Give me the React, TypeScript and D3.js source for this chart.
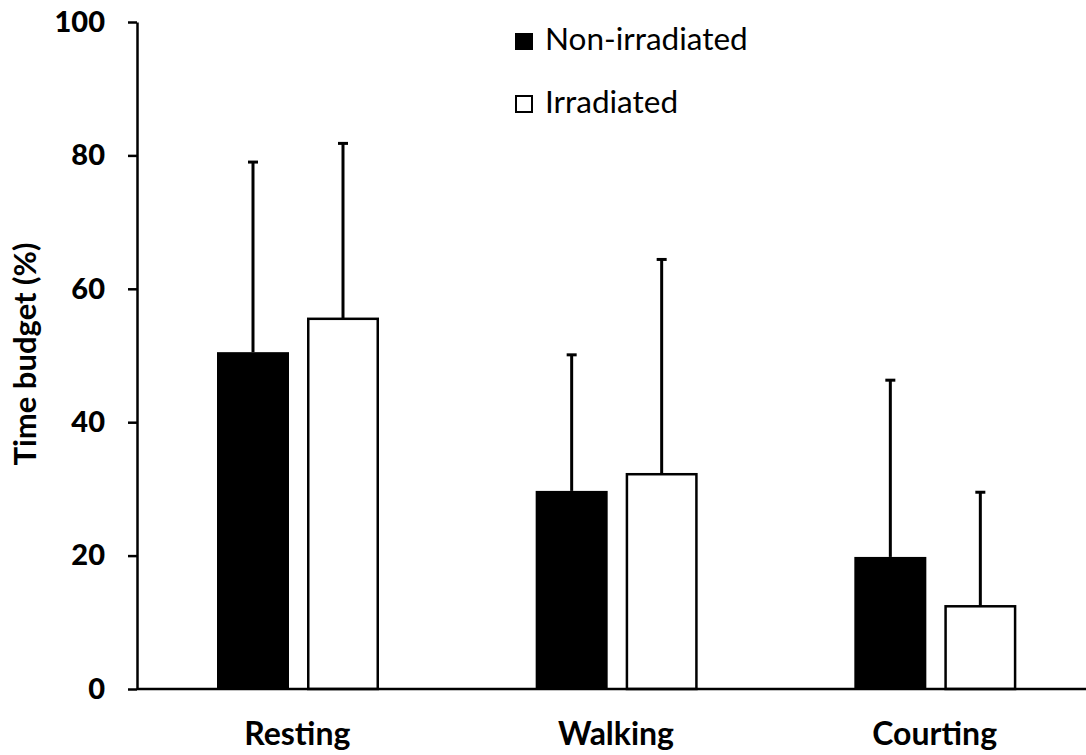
import React, { useEffect, useRef } from 'react'
import { select, scaleLinear, scaleBand, axisLeft } from 'd3'

const categories = ['Resting', 'Walking', 'Courting']
const series = ['Non-irradiated', 'Irradiated']
const nonIrradiated = [50.5, 29.7, 19.8]
const nonIrradiatedErr = [28.5, 20.4, 26.5]
const irradiated = [55.5, 32.2, 12.4]
const irradiatedErr = [26.3, 32.2, 17.1]
const yTicks = [0, 20, 40, 60, 80, 100]

const W = 1086
const H = 755
const FONT = 'Lato, "Open Sans", sans-serif'

const App = () => {
  const yAxisRef = useRef<SVGGElement>(null)

  const y = scaleLinear().domain([0, 100]).range([689, 22])
  const x0 = scaleBand().domain(categories).range([138, 1094])
  const x1 = scaleBand().domain(series).range([79, 241]).paddingInner(0.2)

  const values = [nonIrradiated, irradiated]
  const errors = [nonIrradiatedErr, irradiatedErr]

  useEffect(() => {
    const g = select(yAxisRef.current)
    g.call(
      axisLeft(y)
        .tickValues(yTicks)
        .tickSize(9)
        .tickPadding(23)
        .tickSizeOuter(0)
    )
    g.select('.domain').attr('stroke', '#000').attr('stroke-width', 2.5)
    g.selectAll('.tick line').attr('stroke', '#000').attr('stroke-width', 2.5)
    g.selectAll('.tick text')
      .attr('fill', '#000')
      .style('font-family', FONT)
      .style('font-size', '29px')
      .style('font-weight', '900')
  }, [])

  return (
    <svg width={W} height={H} style={{ position: 'absolute', left: 0, top: 0, background: '#fff' }}>
      {categories.map((c, i) => (
        <g key={c} transform={`translate(${x0(c)},0)`}>
          {series.map((s, k) => {
            const v = values[k][i]
            const e = errors[k][i]
            const bx = x1(s) as number
            const bw = x1.bandwidth()
            const cx = bx + bw / 2
            return (
              <g key={s}>
                <line x1={cx} x2={cx} y1={y(v)} y2={y(v + e)} stroke="#000" strokeWidth={3} />
                <line x1={cx - 5} x2={cx + 5} y1={y(v + e)} y2={y(v + e)} stroke="#000" strokeWidth={3} />
                {k === 0 ? (
                  <rect x={bx} y={y(v)} width={bw} height={y(0) - y(v)} fill="#000" />
                ) : (
                  <rect
                    x={bx + 1.25}
                    y={y(v)}
                    width={bw - 2.5}
                    height={y(0) - y(v)}
                    fill="#fff"
                    stroke="#000"
                    strokeWidth={2.5}
                  />
                )}
              </g>
            )
          })}
          <text
            x={x0.bandwidth() / 2}
            y={745}
            textAnchor="middle"
            fontFamily={FONT}
            fontWeight="bold"
            fontSize={32}
          >
            {c}
          </text>
        </g>
      ))}

      <line x1={137} x2={W} y1={y(0)} y2={y(0)} stroke="#000" strokeWidth={2.5} />
      <g ref={yAxisRef} transform="translate(137,0)" />

      <text
        transform={`translate(36,354) rotate(-90)`}
        textAnchor="middle"
        fontFamily={FONT}
        fontWeight="bold"
        fontSize={31}
      >
        Time budget (%)
      </text>

      <g fontFamily={FONT} fontSize={31.5}>
        <rect x={515} y={33} width={18} height={17} fill="#000" />
        <text x={545} y={50}>{series[0]}</text>
        <rect x={516} y={96} width={16} height={16} fill="#fff" stroke="#000" strokeWidth={2} />
        <text x={545} y={113}>{series[1]}</text>
      </g>
    </svg>
  )
}

export default App
